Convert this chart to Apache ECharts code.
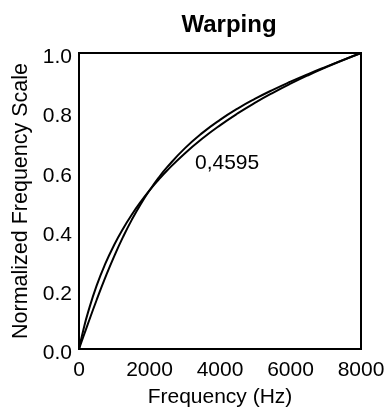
<!DOCTYPE html>
<html>
<head>
<meta charset="utf-8">
<script src="https://cdn.jsdelivr.net/npm/echarts@6/dist/echarts.min.js"></script>
<style>html,body{margin:0;padding:0;background:#fff;}#c{width:390px;height:407px;}</style>
</head>
<body>
<div id="c"></div>
<script>
var freqs = [0, 125, 250, 500, 750, 1000, 1250, 1500, 1750, 2000, 2250, 2500, 3000, 3500, 4000, 4500, 5000, 5500, 6000, 6500, 7000, 7500, 8000];
var melScale = [0, 0.0652, 0.1212, 0.2139, 0.2890, 0.3521, 0.4065, 0.4544, 0.4971, 0.5357, 0.5708, 0.6031, 0.6607, 0.7110, 0.7556, 0.7958, 0.8322, 0.8655, 0.8963, 0.9249, 0.9515, 0.9765, 1];
var warpScale = [0, 0.0421, 0.0840, 0.1655, 0.2425, 0.3138, 0.3787, 0.4371, 0.4892, 0.5355, 0.5772, 0.6142, 0.6777, 0.7301, 0.7742, 0.8124, 0.8456, 0.8756, 0.9031, 0.9288, 0.9532, 0.9768, 1];
var xTicks = [0, 2000, 4000, 6000, 8000];
var yTicks = [0.0, 0.2, 0.4, 0.6, 0.8, 1.0];
var annotation = '0,4595';

var FONT = 'Liberation Sans, Arial, Helvetica, sans-serif';
function pairs(xs, ys){ return xs.map(function(x,i){ return [x, ys[i]]; }); }

var chart = echarts.init(document.getElementById('c'), null, {renderer:'canvas'});
chart.setOption({
  animation: false,
  backgroundColor: '#fff',
  title: {
    text: 'Warping',
    left: 224, top: 8, textAlign: 'center',
    textStyle: {fontFamily: FONT, fontSize: 24, fontWeight: 'bold', color: '#000'}
  },
  grid: {left: 79, right: 29, top: 53, bottom: 58, outerBoundsMode: 'none', containLabel: false,
         show: true, borderColor: '#000', borderWidth: 2, backgroundColor: 'transparent'},
  xAxis: {
    type: 'value', min: xTicks[0], max: xTicks[xTicks.length-1], interval: 2000,
    name: 'Frequency (Hz)', nameLocation: 'middle', nameGap: 38,
    nameTextStyle: {fontFamily: FONT, fontSize: 21, color: '#000'},
    axisLine: {show: false}, axisTick: {show: false}, splitLine: {show: false},
    axisLabel: {fontFamily: FONT, fontSize: 21, color: '#000', margin: 11,
      formatter: function(v){ return String(v); }}
  },
  yAxis: {
    type: 'value', min: yTicks[0], max: yTicks[yTicks.length-1], interval: 0.2,
    name: 'Normalized Frequency Scale', nameLocation: 'middle', nameGap: 37,
    nameTextStyle: {fontFamily: FONT, fontSize: 21.5, color: '#000'},
    axisLine: {show: false}, axisTick: {show: false}, splitLine: {show: false},
    axisLabel: {color: '#000', margin: 7,
      formatter: function(v){ return '{a|' + v.toFixed(1) + '}'; },
      rich: {a: {fontFamily: FONT, fontSize: 21, color: '#000', padding: [9, 0, 0, 0]}}}
  },
  series: [
    {type: 'line', data: pairs(freqs, melScale), smooth: true, symbol: 'none',
     lineStyle: {color: '#000', width: 2}},
    {type: 'line', data: pairs(freqs, warpScale), smooth: true, symbol: 'none',
     lineStyle: {color: '#000', width: 2}}
  ],
  graphic: [
    {type: 'text', left: 195, top: 153,
     style: {text: annotation, font: '21px ' + FONT, fill: '#000'}}
  ]
});
</script>
</body>
</html>
